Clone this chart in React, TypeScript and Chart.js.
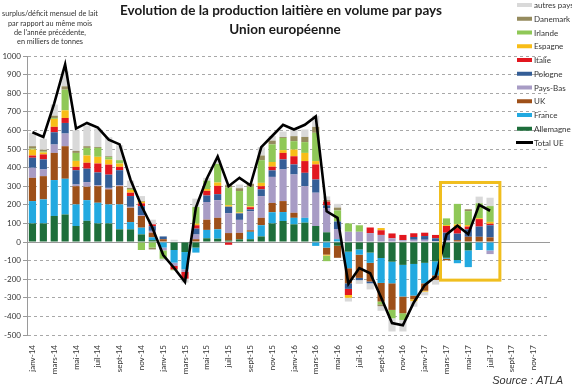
import React, { useEffect, useRef } from 'react';
import { Chart, registerables } from 'chart.js';

Chart.register(...registerables);

const MONTHS = [
  'janv-14', 'févr-14', 'mars-14', 'avr-14', 'mai-14', 'juin-14', 'juil-14', 'août-14', 'sept-14', 'oct-14', 'nov-14', 'déc-14',
  'janv-15', 'févr-15', 'mars-15', 'avr-15', 'mai-15', 'juin-15', 'juil-15', 'août-15', 'sept-15', 'oct-15', 'nov-15', 'déc-15',
  'janv-16', 'févr-16', 'mars-16', 'avr-16', 'mai-16', 'juin-16', 'juil-16', 'août-16', 'sept-16', 'oct-16', 'nov-16', 'déc-16',
  'janv-17', 'févr-17', 'mars-17', 'avr-17', 'mai-17', 'juin-17', 'juil-17', 'août-17', 'sept-17', 'oct-17', 'nov-17', 'déc-17',
];

const ALLEMAGNE = [100, 100, 140, 148, 86, 114, 100, 100, 68, 68, 41, 10, 0, -43, -54, -30, 20, 18, 8, 14, 15, 30, 100, 113, 95, 104, 86, 52, -20, -52, -40, -57, -86, -106, -123, -118, -112, -104, -85, -97, -45, 0, 0];
const FRANCE = [120, 129, 193, 192, 116, 111, 111, 102, 134, 39, 36, 15, -30, -68, -93, -27, 45, 50, 0, 0, 40, 60, 60, 48, 35, 26, -21, -30, 15, -89, -28, -55, -134, -116, -170, -170, -110, -75, -5, -17, -90, -43, -45];
const UK = [125, 125, 146, 175, 98, 72, 89, 81, 98, 77, 63, 25, 15, 0, 0, 15, 55, 62, 40, 35, 8, 40, 50, 59, 27, 0, 0, -38, -65, -81, -125, -100, -100, -143, -90, -20, -40, -25, -8, 10, 28, 28, 25];
const PAYS_BAS = [54, 36, 45, 68, 9, 25, 5, 8, 5, 5, 5, 10, -15, -18, -14, 25, 95, 95, 107, 70, 102, 117, 140, 170, 206, 170, 179, 130, 55, 55, 55, 48, 38, 20, 10, 12, 12, 5, 10, 0, 0, 0, -20];
const POLOGNE = [54, 54, 66, 57, 77, 72, 69, 71, 81, 58, 48, 25, 15, 0, 0, 32, 35, 32, 35, 35, 10, 36, 35, 54, 54, 72, 71, 15, 40, -30, -12, -10, 0, 0, 0, 15, 20, 15, 40, 35, 40, 55, 65];
const ITALIE = [12, 27, 29, 27, 18, 32, 48, 54, 18, 18, 15, 10, 0, -18, -36, 18, 25, 45, -15, 0, 12, 17, 20, 35, 44, 63, 81, 20, 0, -33, 0, 30, 25, 26, 28, 20, 18, 18, 36, 30, 15, 40, 8];
const ESPAGNE = [32, 10, 43, 41, 32, 39, 36, 27, 18, 15, 8, 0, 0, 0, 0, 9, 10, 18, 8, 5, 5, 18, 25, 15, 36, 44, 18, -5, 0, -15, 0, 0, 12, 0, 0, -10, -5, 0, 5, 20, 8, 5, 10];
const IRLANDE = [5, 5, 5, 111, 43, 41, 48, 13, 18, 5, -43, -30, -45, -5, 0, 89, 45, 100, 95, 115, 105, 122, 95, 65, 45, 58, 152, -30, 60, 45, 35, 0, -15, -45, -36, 0, 0, 0, 36, 110, 75, 80, 85];
const DANEMARK = [13, 10, 12, 18, 11, 9, 5, 5, 0, 5, 4, -10, 0, 0, 0, 0, 0, 0, 12, 15, 15, 25, 20, 5, 27, 28, 32, 8, 15, 0, 0, 0, -10, 0, 0, 0, 0, 0, 0, 0, 10, 0, 0];
const AUTRES = [72, 59, 60, 80, 110, 111, 99, 102, 80, 40, 27, 25, -10, 12, -21, 45, 15, 20, 5, 20, 5, 45, 25, 30, 36, 40, 60, 20, 20, -20, -20, -33, -25, -71, -62, -30, -20, -25, 0, 0, 0, 36, 45];
const TOTAL_UE = [590, 565, 745, 955, 610, 640, 615, 550, 525, 335, 195, 78, -70, -140, -215, 185, 340, 460, 300, 345, 305, 510, 570, 630, 605, 630, 675, 165, 130, -225, -140, -168, -298, -436, -448, -325, -232, -186, 40, 88, 42, 200, 168];

const SERIES_NAMES = ['Allemagne', 'France', 'UK', 'Pays-Bas', 'Pologne', 'Italie', 'Espagne', 'Irlande', 'Danemark', 'autres pays'];
const SERIES_VALUES = [ALLEMAGNE, FRANCE, UK, PAYS_BAS, POLOGNE, ITALIE, ESPAGNE, IRLANDE, DANEMARK, AUTRES];
const SERIES_COLORS = ['#1E6E3B', '#22A9E0', '#9E5019', '#A89CC5', '#345E97', '#E2171F', '#F8BD17', '#8FC857', '#958B5E', '#D9D9D9'];
const TOTAL_NAME = 'Total UE';

const Y_TICKS_MIN = -500;
const Y_TICKS_MAX = 1000;
const Y_STEP = 100;

const TITLE = ['Evolution de la production laitière en volume par pays', 'Union européenne'];
const Y_CAPTION = ['surplus/déficit mensuel de lait', 'par rapport au même mois', "de l'année précédente,", 'en milliers de tonnes'];
const SOURCE = 'Source : ATLA';

// highlighted window (category index range and value range)
const HIGHLIGHT = { fromIndex: 37.45, toIndex: 42.9, top: 320, bottom: -205 };

const pad = (arr: (number | null)[]) => [...arr, ...Array(MONTHS.length - arr.length).fill(null)];

const FONT = 'Lato, "DejaVu Sans", sans-serif';

const decorPlugin = {
  id: 'decor',
  afterDatasetsDraw(chart: any) {
    const { ctx, scales } = chart;
    const x = scales.x;
    const y = scales.y;
    const pix = (idx: number) => {
      const f = Math.floor(idx);
      const a = x.getPixelForValue(f);
      const b = x.getPixelForValue(f + 1);
      return a + (idx - f) * (b - a);
    };
    ctx.save();
    ctx.strokeStyle = '#F0BE1E';
    ctx.lineWidth = 3;
    const x0 = pix(HIGHLIGHT.fromIndex);
    const x1 = pix(HIGHLIGHT.toIndex);
    const y0 = y.getPixelForValue(HIGHLIGHT.top);
    const y1 = y.getPixelForValue(HIGHLIGHT.bottom);
    ctx.strokeRect(x0, y0, x1 - x0, y1 - y0);
    ctx.restore();
  },
  afterDraw(chart: any) {
    const { ctx } = chart;
    ctx.save();
    ctx.textBaseline = 'middle';
    ctx.textAlign = 'center';
    ctx.fillStyle = '#1a1a1a';
    ctx.font = `bold 13.5px ${FONT}`;
    ctx.fillText(TITLE[0], 281, 11);
    ctx.fillText(TITLE[1], 285, 30);

    ctx.fillStyle = '#333';
    ctx.font = `7.3px ${FONT}`;
    Y_CAPTION.forEach((t, i) => ctx.fillText(t, 50, 14 + i * 9.2));

    ctx.textAlign = 'right';
    ctx.font = `italic 11px "Liberation Sans", Arial, sans-serif`;
    ctx.fillText(SOURCE, 563, 381);

    // legend
    const ds = chart.data.datasets;
    const items: any[] = [];
    for (let i = ds.length - 1; i >= 0; i--) {
      if (ds[i].type !== 'line') items.push(ds[i]);
    }
    ds.forEach((d: any) => { if (d.type === 'line') items.push(d); });
    ctx.textAlign = 'left';
    ctx.font = `8px ${FONT}`;
    items.forEach((d: any, i: number) => {
      const cy = 5 + i * 13.75;
      if (d.type === 'line') {
        ctx.fillStyle = d.borderColor;
        ctx.fillRect(516, cy - 1.5, 17, 3);
      } else {
        ctx.fillStyle = d.backgroundColor;
        ctx.fillRect(517, cy - 2, 15, 4);
      }
      ctx.fillStyle = '#333';
      ctx.fillText(d.label, 534, cy + 0.5);
    });
    ctx.restore();
  },
};

export default function App() {
  const ref = useRef<HTMLCanvasElement>(null);

  useEffect(() => {
    if (!ref.current) return;
    const barSets = SERIES_NAMES.map((name, i) => ({
      type: 'bar' as const,
      label: name,
      data: pad(SERIES_VALUES[i]),
      backgroundColor: SERIES_COLORS[i],
      borderWidth: 0,
      stack: 'pays',
      order: 1,
      barPercentage: 0.66,
      categoryPercentage: 1,
    }));
    const chart = new Chart(ref.current, {
      data: {
        labels: MONTHS,
        datasets: [
          ...barSets,
          {
            type: 'line' as const,
            label: TOTAL_NAME,
            data: pad(TOTAL_UE),
            borderColor: '#000000',
            backgroundColor: '#000000',
            borderWidth: 2.6,
            pointRadius: 0,
            tension: 0,
            stack: 'total',
            order: 0,
            spanGaps: false,
          } as any,
        ],
      },
      plugins: [decorPlugin],
      options: {
        responsive: false,
        animation: false,
        devicePixelRatio: 1,
        layout: { padding: { top: 56, right: 22, bottom: 13, left: 0 } },
        plugins: { legend: { display: false }, tooltip: { enabled: false }, title: { display: false } },
        scales: {
          x: {
            stacked: true,
            grid: { display: false },
            border: { display: false },
            ticks: {
              autoSkip: false,
              maxRotation: 90,
              minRotation: 90,
              padding: 2,
              color: '#333',
              font: { family: FONT, size: 8 },
              callback: (_v: any, i: number) => (i % 2 === 0 ? MONTHS[i] : ''),
            },
            afterFit: (axis: any) => { axis.height = 40; },
          },
          y: {
            stacked: true,
            min: Y_TICKS_MIN,
            max: Y_TICKS_MAX,
            ticks: {
              stepSize: Y_STEP,
              color: '#333',
              padding: 2,
              font: { family: FONT, size: 8 },
              callback: (v: any) => String(v),
            },
            grid: {
              color: (c: any) => (c.tick && c.tick.value === 0 ? '#9a9a9a' : '#a8a8a8'),
              lineWidth: 1,
              drawTicks: true,
              tickLength: 4,
              tickColor: '#999',
            },
            border: {
              display: true,
              color: '#9a9a9a',
              dash: (c: any) => (c.tick && c.tick.value === 0 ? [] : [3, 3]),
            },
            afterFit: (axis: any) => { axis.width = 27; },
          },
        },
      } as any,
    });
    return () => chart.destroy();
  }, []);

  return (
    <div style={{ position: 'absolute', left: 0, top: 0, width: 572, height: 388, background: '#fff' }}>
      <canvas ref={ref} width={572} height={388} style={{ display: 'block' }} />
    </div>
  );
}
